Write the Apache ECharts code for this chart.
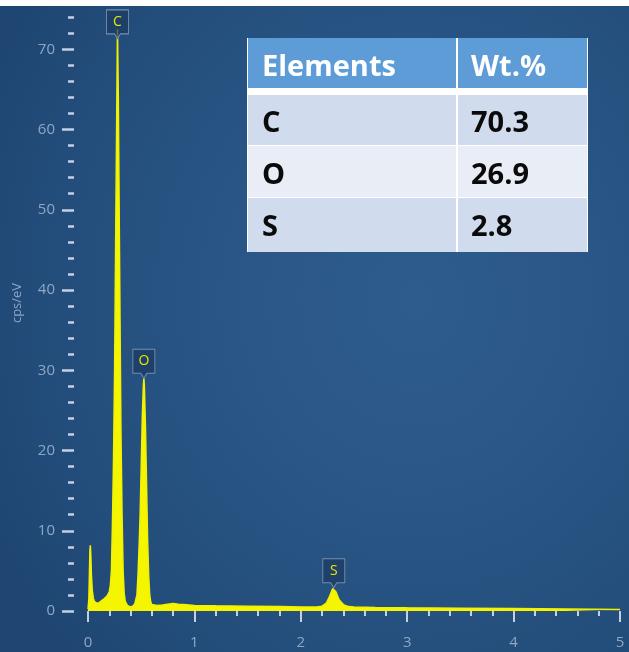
<!DOCTYPE html>
<html>
<head>
<meta charset="utf-8">
<script src="https://cdn.jsdelivr.net/npm/echarts@6/dist/echarts.min.js"></script>
<style>
html,body{margin:0;padding:0;background:#fff;}
#chart{width:629px;height:652px;
background: radial-gradient(ellipse 75% 80% at 66% 46%, #2e5c8c 0%, #2a5787 35%, #244f7d 70%, #1f4673 100%);}
</style>
</head>
<body>
<div id="chart"></div>
<script>
// Spectrum: energy (keV) and intensity (cps/eV)
const energy = [
  0.00, 0.008, 0.013, 0.018, 0.022, 0.027, 0.032, 0.04, 0.05, 0.06, 0.08, 0.10, 0.12, 0.15, 0.18,
  0.20, 0.21, 0.22, 0.23, 0.24, 0.25, 0.26, 0.27, 0.277, 0.285, 0.29, 0.30, 0.31, 0.32, 0.33, 0.34, 0.35,
  0.37, 0.40, 0.42, 0.44, 0.46, 0.47, 0.48, 0.49, 0.50, 0.51, 0.52, 0.525, 0.53, 0.54, 0.55, 0.56, 0.57, 0.58, 0.59, 0.60,
  0.65, 0.70, 0.75, 0.80, 0.85, 0.90, 1.00, 1.20, 1.50, 1.80, 2.00, 2.15, 2.20, 2.24, 2.27, 2.30, 2.31, 2.33, 2.36, 2.40, 2.45,
  2.50, 2.70, 3.00, 3.50, 4.00, 4.50, 5.00
];
const counts = [
  0.2, 1.5, 4.5, 7.6, 8.2, 6.8, 4.5, 2.6, 1.6, 1.2, 1.0, 1.0, 1.2, 1.5, 1.9,
  2.4, 3.2, 5.0, 11, 19, 30, 46, 62, 72.5, 64, 55, 38, 22, 12, 5.0, 2.2, 1.2,
  0.7, 0.5, 0.6, 0.9, 2.0, 4.5, 8.0, 12, 18, 24, 28, 29, 28, 23, 16, 9.0, 4.5, 2.0, 1.1, 0.8,
  0.7, 0.75, 0.85, 0.95, 0.85, 0.8, 0.7, 0.65, 0.6, 0.55, 0.5, 0.5, 0.6, 1.0, 1.8, 2.8, 2.9, 2.4, 1.4, 0.8, 0.55,
  0.5, 0.45, 0.4, 0.35, 0.3, 0.25, 0.2
];

// Peak identification markers (label anchor heights)
const peakNames = ['C', 'O', 'S'];
const peakEnergy = [0.277, 0.525, 2.31];
const peakHeight = [71.3, 29, 2.9];

// Composition table
const tableHeader = ['Elements', 'Wt.%'];
const tableElements = ['C', 'O', 'S'];
const tableWt = ['70.3', '26.9', '2.8'];

// Axis ticks
const yTickLabels = [0, 10, 20, 30, 40, 50, 60, 70];
const xTickLabels = [0, 1, 2, 3, 4, 5];

const spectrum = energy.map((e, i) => [e, counts[i]]);
const markers = peakNames.map((n, i) => ({ name: n, value: [peakEnergy[i], peakHeight[i]] }));

// Table graphic
const tx = 247, tw = 341, colX = 457;
const rowTops = [38, 95, 146, 198], rowBottoms = [88, 145, 197, 252];
const rowFills = ['#5d9cd6', '#d0dcee', '#e9eef6', '#d0dcee'];
const textY = [68, 124, 176, 228];
const tableEls = [];
tableEls.push({ type: 'rect', shape: { x: tx, y: 38, width: tw, height: 214 }, style: { fill: '#ffffff' }, z: 50 });
for (let r = 0; r < 4; r++) {
  tableEls.push({ type: 'rect', shape: { x: tx + 1, y: rowTops[r], width: colX - tx - 2, height: rowBottoms[r] - rowTops[r] }, style: { fill: rowFills[r] }, z: 51 });
  tableEls.push({ type: 'rect', shape: { x: colX + 1, y: rowTops[r], width: tx + tw - colX - 2, height: rowBottoms[r] - rowTops[r] }, style: { fill: rowFills[r] }, z: 51 });
}
const rowsLeft = [tableHeader[0]].concat(tableElements);
const rowsRight = [tableHeader[1]].concat(tableWt);
for (let r = 0; r < 4; r++) {
  const col = r === 0 ? '#ffffff' : '#0a0a0a';
  tableEls.push({ type: 'text', x: 262, y: textY[r], style: { text: rowsLeft[r], fill: col, font: 'bold 29px "Open Sans", sans-serif', textVerticalAlign: 'middle', textAlign: 'left' }, z: 52 });
  tableEls.push({ type: 'text', x: 471, y: textY[r], style: { text: rowsRight[r], fill: col, font: 'bold 29px "Open Sans", sans-serif', textVerticalAlign: 'middle', textAlign: 'left' }, z: 52 });
}

const tickColor = '#c3d0e0';
const labelColor = '#8fa7c5';

const chart = echarts.init(document.getElementById('chart'), null, { renderer: 'canvas' });
const option = {
  backgroundColor: 'transparent',
  animation: false,
  grid: [
    { left: 88, right: 9, top: -31, bottom: 41, containLabel: false, outerBoundsMode: 'none' },
    { left: 74, width: 1, top: -31, bottom: 41, containLabel: false, outerBoundsMode: 'none' }
  ],
  xAxis: [
    {
      type: 'value', min: 0, max: 5, interval: 1, offset: 4, gridIndex: 0,
      axisLine: { show: false },
      axisTick: { show: true, length: 11, lineStyle: { color: tickColor, width: 2 } },
      minorTick: { show: true, splitNumber: 5, length: 5, lineStyle: { color: tickColor, width: 2 } },
      splitLine: { show: false },
      axisLabel: { color: labelColor, fontSize: 15, margin: 20, fontFamily: 'Open Sans',
        formatter: v => xTickLabels.indexOf(v) >= 0 ? String(v) : '' }
    },
    {
      type: 'value', min: 0, max: 1, gridIndex: 1, show: false
    }
  ],
  yAxis: [
    {
      type: 'value', min: 0, max: 80, interval: 10, gridIndex: 0, show: false
    },
    {
      type: 'value', min: 0, max: 80, interval: 10, gridIndex: 1,
      axisLine: { show: false },
      axisTick: { show: true, length: 12, lineStyle: { color: tickColor, width: 2.5 } },
      minorTick: { show: true, splitNumber: 5, length: 6, lineStyle: { color: tickColor, width: 2.5 } },
      splitLine: { show: false },
      axisLabel: { color: labelColor, fontSize: 15, margin: 19, fontFamily: 'Open Sans',
        formatter: v => yTickLabels.indexOf(v) >= 0 ? String(v) : '' }
    }
  ],
  series: [
    {
      type: 'line', data: spectrum, showSymbol: false, symbol: 'none', xAxisIndex: 0, yAxisIndex: 0,
      lineStyle: { color: '#f2f200', width: 1.5 },
      areaStyle: { color: '#f5f500', opacity: 1 },
      z: 2
    },
    {
      type: 'scatter', data: markers, xAxisIndex: 0, yAxisIndex: 0,
      symbol: 'path://M0,0 H22 V24 H14 L11,29 L8,24 H0 Z',
      symbolSize: [22, 29], symbolOffset: [0, -14.5],
      itemStyle: { color: 'rgba(28,58,95,0.7)', borderColor: '#7590b0', borderWidth: 1, opacity: 1 },
      label: { show: true, position: 'inside', offset: [0, -2.5], formatter: p => p.name,
        color: '#e6e60a', fontSize: 14, fontFamily: 'Open Sans' },
      z: 5
    }
  ],
  graphic: [
    { type: 'rect', shape: { x: 0, y: 0, width: 629, height: 6 }, style: { fill: '#ffffff' }, z: 100 },
    { type: 'text', x: 17, y: 303, rotation: Math.PI / 2,
      style: { text: 'cps/eV', fill: labelColor, font: '13px "Open Sans", sans-serif', textAlign: 'center', textVerticalAlign: 'middle' }, z: 10 }
  ].concat(tableEls)
};
chart.setOption(option);
</script>
</body>
</html>
